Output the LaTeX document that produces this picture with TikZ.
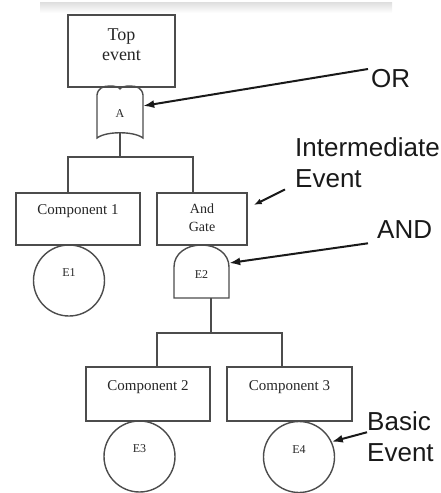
\documentclass[tikz,border=0pt]{standalone}
\usepackage{fontspec}
\setmainfont{Liberation Serif}
\setsansfont{Liberation Sans}
\usetikzlibrary{positioning,arrows.meta}

\begin{document}
\begin{tikzpicture}[x=1pt, y=-1pt,
	box/.style={draw=black!70, line width=1.4pt, rectangle, inner sep=0pt},
	boxtext/.style={inner sep=0pt, align=center, text=black!85, font=\fontsize{15}{18}\selectfont},
	evt/.style={draw=black!70, line width=1.4pt, circle, minimum size=71pt, inner sep=0pt, text height=9pt, text depth=17pt, text=black!85, font=\fontsize{12}{14}\selectfont},
	gate/.style={inner sep=0pt, text=black!85, font=\fontsize{12}{14}\selectfont},
	gateline/.style={draw=black!70, line width=1.4pt},
	wire/.style={black!70, line width=1.4pt},
	callout/.style={inner sep=0pt, anchor=north west, align=left, text=black!90, font=\sffamily\fontsize{26}{31}\selectfont},
	pointer/.style={black!90, line width=2pt, -{Latex[length=11pt,width=8pt]}}]
		\useasboundingbox (0,0) rectangle (441,493);
		\shade[top color=black!13, bottom color=white] (40,2) rectangle (392,13);
		% top event and OR gate
		\node[box, minimum width=107pt, minimum height=72pt] (topbox) at (121.5,51) {};
		\node[boxtext, font=\fontsize{18}{20}\selectfont, below=14pt of topbox.north] (toptxt) {Top\\event};
		\node[gate, minimum width=46pt, minimum height=46pt, text height=14pt, text depth=0pt] (gA) at (120,110) {A};
		\draw[gateline, shift={(gA.center)}] (-23,28) -- (-23,-15) .. controls (-22,-22) and (-17,-24) .. (-10,-24) .. controls (-5,-24) and (-1,-23) .. (0,-21) .. controls (1,-23) and (5,-24) .. (10,-24) .. controls (17,-24) and (22,-22) .. (23,-15) -- (23,28) .. controls (14,21) and (-14,21) .. cycle;
		% second level
		\node[box, minimum width=124pt, minimum height=52pt] (comp1) at (78,219) {};
		\node[boxtext, below=12pt of comp1.north] (c1txt) {Component 1};
		\node[box, minimum width=90pt, minimum height=52pt] (andbox) at (202,219) {};
		\node[boxtext, font=\fontsize{14}{18}\selectfont, below=11pt of andbox.north] (andtxt) {And\\Gate};
		\coordinate (b1l) at (68,157);
		\coordinate (b1r) at (193,157);
		\draw[wire] (gA.south) |- (b1l) -- (b1l |- comp1.north);
		\draw[wire] (gA.south) |- (b1r) -- (b1r |- andbox.north);
		\node[evt] (e1) at (69,280.5) {E1};
		\node[gate, minimum width=55pt, minimum height=53pt, text height=13pt, text depth=0pt] (gE2) at (201.5,271.5) {E2};
		\draw[gateline, shift={(gE2.center)}] (-27.5,26.5) -- (-27.5,-4.5) .. controls (-27.5,-18) and (-15,-26.5) .. (0,-26.5) .. controls (15,-26.5) and (27.5,-18) .. (27.5,-4.5) -- (27.5,26.5) -- cycle;
		% third level
		\node[box, minimum width=124pt, minimum height=54pt] (comp2) at (148,394) {};
		\node[boxtext, below=14pt of comp2.north] (c2txt) {Component 2};
		\node[box, minimum width=125pt, minimum height=54pt] (comp3) at (289.5,394) {};
		\node[boxtext, below=14pt of comp3.north] (c3txt) {Component 3};
		\coordinate (s2) at ([xshift=9.5pt]gE2.south);
		\coordinate (b2l) at (157,333);
		\coordinate (b2r) at (282,333);
		\draw[wire] (s2) |- (b2l) -- (b2l |- comp2.north);
		\draw[wire] (s2) |- (b2r) -- (b2r |- comp3.north);
		\node[evt] (e3) at (139.5,456.5) {E3};
		\node[evt] (e4) at (299,457) {E4};
		% callouts
		\node[callout] (orl) at (371,69) {OR};
		\node[callout] (iel) at (295,137) {Intermediate\\Event};
		\node[callout] (andl) at (377,220) {AND};
		\node[callout] (bel) at (367,411) {Basic\\Event};
		\draw[pointer] ([xshift=-3pt]orl.north west) -- (gA.10);
		\draw[pointer, -{Latex[length=8pt,width=6pt]}] ([shift={(-10pt,-2pt)}]iel.south west) -- ([shift={(6pt,14pt)}]andbox.east);
		\draw[pointer] ([shift={(-9pt,-5pt)}]andl.south west) -- (gE2.17);
		\draw[pointer] ([yshift=4pt]bel.west) -- (e4.25);
\end{tikzpicture}
\end{document}
